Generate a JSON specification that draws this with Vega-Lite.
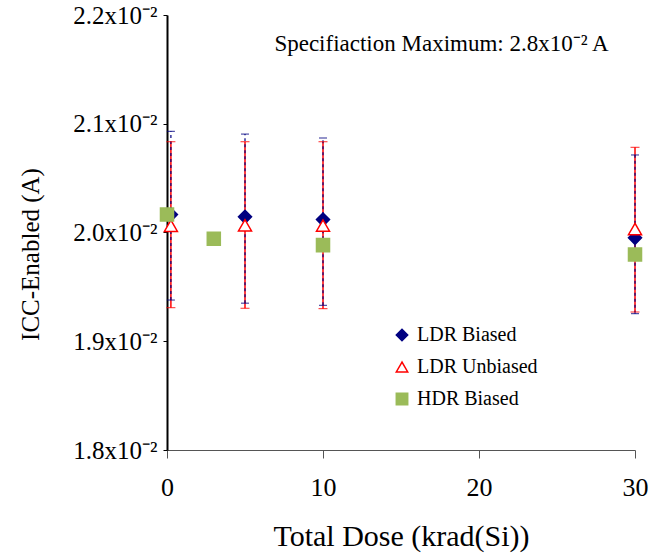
{
  "$schema": "https://vega.github.io/schema/vega-lite/v6.json",
  "width": 468,
  "height": 435,
  "autosize": "none",
  "padding": {"left": 167, "top": 15, "right": 30, "bottom": 106},
  "background": "white",
  "config": {"view": {"stroke": null}, "font": "Liberation Serif"},
  "data": {"values": [
    {"series": "LDR Biased", "dose": 0.25, "val": 0.020165, "lo": 0.019379, "hi": 0.02093},
    {"series": "LDR Biased", "dose": 5, "val": 0.020144, "lo": 0.01935, "hi": 0.020905},
    {"series": "LDR Biased", "dose": 10, "val": 0.020119, "lo": 0.01933, "hi": 0.020869},
    {"series": "LDR Biased", "dose": 30, "val": 0.019951, "lo": 0.019254, "hi": 0.020713},
    {"series": "LDR Unbiased", "dose": 0.25, "val": 0.020062, "lo": 0.019309, "hi": 0.020835},
    {"series": "LDR Unbiased", "dose": 5, "val": 0.020066, "lo": 0.019303, "hi": 0.020835},
    {"series": "LDR Unbiased", "dose": 10, "val": 0.020064, "lo": 0.0193, "hi": 0.020835},
    {"series": "LDR Unbiased", "dose": 30, "val": 0.020032, "lo": 0.019269, "hi": 0.020783},
    {"series": "HDR Biased", "dose": 0, "val": 0.020165},
    {"series": "HDR Biased", "dose": 3, "val": 0.019942},
    {"series": "HDR Biased", "dose": 10, "val": 0.019884},
    {"series": "HDR Biased", "dose": 30, "val": 0.019798}
  ]},
  "layer": [
    {
      "transform": [{"filter": "datum.series === 'LDR Unbiased'"}],
      "mark": {"type": "rule", "color": "#FF0000", "strokeWidth": 1.5},
      "encoding": {
        "x": {"field": "dose", "type": "quantitative",
          "scale": {"domain": [0, 30], "nice": false, "zero": false},
          "axis": {"values": [0, 10, 20, 30], "title": "Total Dose (krad(Si))", "grid": false,
            "labelFontSize": 26, "labelFont": "Liberation Serif", "labelColor": "black", "labelFlush": false,
            "titleFontSize": 30, "titleFont": "Liberation Serif", "titleFontWeight": "normal", "titleColor": "black",
            "tickSize": 8, "tickColor": "#555555", "domainColor": "#555555", "domainWidth": 1,
            "labelPadding": 16, "titleY": 95, "titleBaseline": "alphabetic"}},
        "y": {"field": "lo", "type": "quantitative",
          "scale": {"domain": [0.018, 0.022], "nice": false, "zero": false},
          "axis": {"values": [0.018, 0.019, 0.02, 0.021, 0.022], "labelExpr": "format(datum.value*100, '.1f') + 'x10⁻²'",
            "title": "ICC-Enabled (A)", "grid": false, "labelOverlap": false,
            "labelFontSize": 25, "labelFont": "Liberation Serif", "labelColor": "black",
            "titleFontSize": 25, "titleFont": "Liberation Serif", "titleFontWeight": "normal", "titleColor": "black",
            "titleX": -137, "titleY": 239, "titleAngle": -90, "titleAlign": "center", "titleBaseline": "middle",
            "tickSize": 4, "tickColor": "black", "domainColor": "black", "domainWidth": 2, "labelPadding": 6}},
        "y2": {"field": "hi"}
      }
    },
    {
      "transform": [{"filter": "datum.series === 'LDR Biased'"}],
      "mark": {"type": "rule", "color": "#000080", "strokeWidth": 1.2, "strokeDash": [3, 3]},
      "encoding": {
        "x": {"field": "dose", "type": "quantitative"},
        "y": {"field": "lo", "type": "quantitative"},
        "y2": {"field": "hi"}
      }
    },
    {
      "transform": [{"filter": "datum.series === 'LDR Biased'"}],
      "mark": {"type": "tick", "color": "#000080", "size": 8, "thickness": 1.2, "orient": "horizontal"},
      "encoding": {
        "x": {"field": "dose", "type": "quantitative"},
        "y": {"field": "lo", "type": "quantitative"}
      }
    },
    {
      "transform": [{"filter": "datum.series === 'LDR Biased'"}],
      "mark": {"type": "tick", "color": "#000080", "size": 8, "thickness": 1.2, "orient": "horizontal"},
      "encoding": {
        "x": {"field": "dose", "type": "quantitative"},
        "y": {"field": "hi", "type": "quantitative"}
      }
    },
    {
      "transform": [{"filter": "datum.series === 'LDR Unbiased'"}],
      "mark": {"type": "tick", "color": "#FF0000", "size": 9, "thickness": 1.2, "orient": "horizontal"},
      "encoding": {
        "x": {"field": "dose", "type": "quantitative"},
        "y": {"field": "lo", "type": "quantitative"}
      }
    },
    {
      "transform": [{"filter": "datum.series === 'LDR Unbiased'"}],
      "mark": {"type": "tick", "color": "#FF0000", "size": 9, "thickness": 1.2, "orient": "horizontal"},
      "encoding": {
        "x": {"field": "dose", "type": "quantitative"},
        "y": {"field": "hi", "type": "quantitative"}
      }
    },
    {
      "mark": {"type": "point", "filled": true, "strokeWidth": 1.5, "opacity": 1, "size": 170},
      "encoding": {
        "x": {"field": "dose", "type": "quantitative"},
        "y": {"field": "val", "type": "quantitative"},
        "fill": {"field": "series", "type": "nominal",
          "scale": {"domain": ["LDR Biased", "LDR Unbiased", "HDR Biased"], "range": ["#000080", "#FFFFFF", "#9BBB59"]},
          "legend": {"title": null, "orient": "none", "legendX": 225, "legendY": 310,
            "labelFontSize": 20, "labelFont": "Liberation Serif", "labelColor": "black",
            "symbolSize": 130, "rowPadding": 12, "labelOffset": 5, "symbolStrokeWidth": 1.5}},
        "stroke": {"field": "series", "type": "nominal",
          "scale": {"domain": ["LDR Biased", "LDR Unbiased", "HDR Biased"], "range": ["#000080", "#FF0000", "#9BBB59"]}},
        "shape": {"field": "series", "type": "nominal",
          "scale": {"domain": ["LDR Biased", "LDR Unbiased", "HDR Biased"], "range": ["diamond", "triangle-up", "square"]}}
      }
    },
    {
      "data": {"values": [{"dose": 17.6, "val": 0.021733, "note": "Specifiaction Maximum: 2.8x10⁻² A"}]},
      "mark": {"type": "text", "fontSize": 23, "font": "Liberation Serif", "align": "center", "baseline": "middle", "color": "black"},
      "encoding": {
        "x": {"field": "dose", "type": "quantitative"},
        "y": {"field": "val", "type": "quantitative"},
        "text": {"field": "note"}
      }
    }
  ]
}
